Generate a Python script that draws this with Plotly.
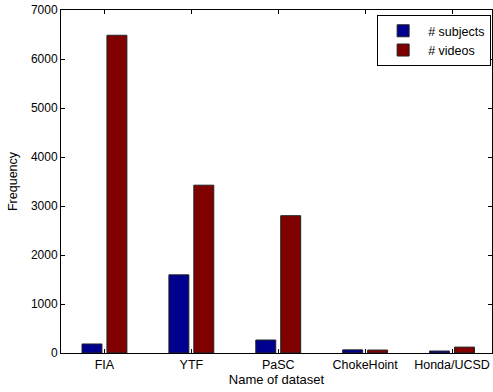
import plotly.graph_objects as go

categories = ["FIA", "YTF", "PaSC", "ChokeHoint", "Honda/UCSD"]
subjects = [184, 1595, 265, 64, 40]
videos = [6484, 3425, 2802, 60, 120]
y_ticks = [0, 1000, 2000, 3000, 4000, 5000, 6000, 7000]

fig = go.Figure()
fig.add_trace(go.Bar(x=categories, y=subjects, name="# subjects",
                     marker=dict(color="#00008F", line=dict(color="#222222", width=1))))
fig.add_trace(go.Bar(x=categories, y=videos, name="# videos",
                     marker=dict(color="#800000", line=dict(color="#222222", width=1))))

fig.update_layout(
    width=493, height=392,
    margin=dict(l=61, r=1, t=10, b=39),
    paper_bgcolor="white", plot_bgcolor="white",
    barmode="group", bargap=0.426, bargroupgap=0.2,
    font=dict(family="Liberation Sans, Arial", size=12, color="black"),
    showlegend=True,
    legend=dict(x=0.998, y=0.985, xanchor="right", yanchor="top",
                bgcolor="white", bordercolor="black", borderwidth=1,
                font=dict(size=12.5), tracegroupgap=0, itemwidth=40),
    xaxis=dict(range=[-0.5, 4.46], showline=True, linecolor="black", linewidth=1,
               mirror="ticks", ticks="inside", ticklen=4, tickcolor="black",
               showgrid=False, zeroline=False, tickfont=dict(size=12.5),
               title=dict(text="Name of dataset", font=dict(size=13), standoff=3)),
    yaxis=dict(range=[0, 7000], tickvals=y_ticks, showline=True, linecolor="black",
               linewidth=1, mirror="ticks", ticks="inside", ticklen=4, tickcolor="black",
               showgrid=False, zeroline=False, tickfont=dict(size=12),
               title=dict(text="Frequency", font=dict(size=12.5), standoff=10)),
)

fig.write_html("out.html")
